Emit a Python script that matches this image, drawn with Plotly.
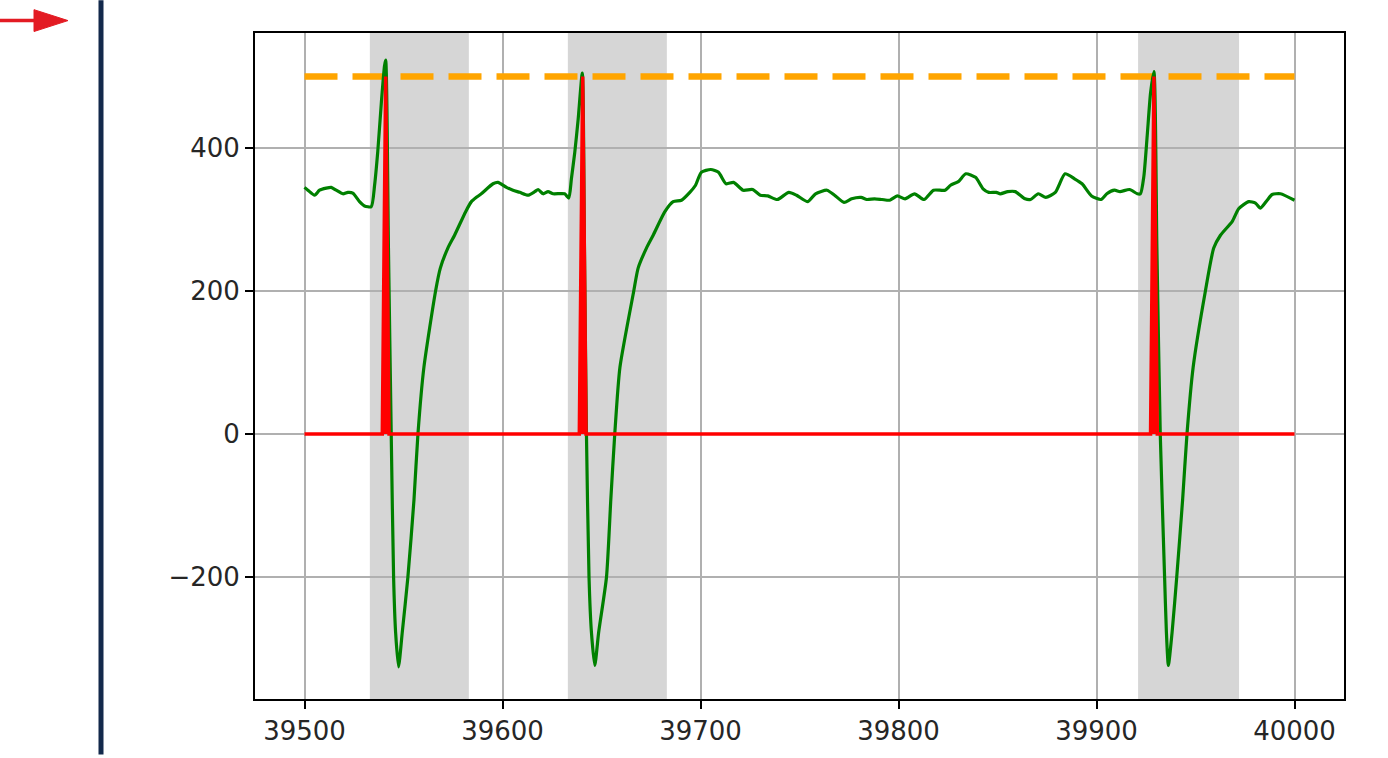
import plotly.graph_objects as go

# ---------------- data ----------------
green_x = [39500, 39501.7, 39505.1, 39507.6, 39511, 39513.5, 39516, 39519.4, 39521.9, 39524.4,
           39527.8, 39530.3, 39533.7, 39535.4, 39537, 39538.8, 39540.4, 39541, 39542.4, 39543.8,
           39545, 39546, 39547.5, 39549.4, 39552.2, 39555.3, 39557.3, 39560.3, 39566.2, 39568.6,
           39572.4, 39575.8, 39581.4, 39584.3, 39586.8, 39589.3, 39595.2, 39597.7, 39602, 39605.3,
           39608.7, 39612.9, 39616.3, 39618, 39620.5, 39623, 39625.6, 39631.4, 39633.5, 39634.8,
           39636.5, 39638.2, 39640.3, 39641.4, 39642.4, 39643.7, 39644.9, 39646.6, 39648.6, 39652.5,
           39654.7, 39656.7, 39659.3, 39666.3, 39668.5, 39672.7, 39676.1, 39682, 39686.2, 39690.4,
           39694.6, 39697.5, 39700.4, 39705.2, 39709.1, 39712.9, 39716.7, 39721.5, 39726.3, 39730.2,
           39734, 39738.8, 39744.6, 39748.5, 39754.2, 39758.1, 39763.9, 39767.7, 39772.5, 39776.3,
           39781.1, 39784, 39787.9, 39791.7, 39795.6, 39799.4, 39803.3, 39808.1, 39812.9, 39817.7,
           39823.5, 39826.3, 39830.2, 39834, 39838.9, 39842.7, 39845.6, 39849.4, 39851.4, 39855.2,
           39859, 39863.9, 39866.7, 39870.6, 39874.4, 39879.2, 39884.1, 39888.9, 39892.7, 39897.5,
           39902.3, 39905.2, 39909.1, 39911.9, 39916.7, 39920.6, 39922.2, 39923.9, 39925.6, 39927.3,
           39929, 39930.5, 39932.2, 39934.4, 39935.3, 39936.3, 39938.2, 39940.5, 39943.5, 39945.7,
           39948.8, 39955, 39959.2, 39962.6, 39968.5, 39971.8, 39976.9, 39980.3, 39982.8, 39986.2,
           39988.7, 39992.9, 40000]
green_y = [345, 341, 334, 341, 344, 345, 341, 336, 338, 337,
           325, 319, 318, 348, 395, 463, 515, 523, 260, 0,
           -201, -277, -326, -277, -201, -92, 0, 93, 200, 232,
           260, 278, 311, 325, 331, 336, 350, 352, 345, 341,
           338, 334, 339, 342, 336, 339, 336, 336, 330, 357,
           394, 440, 505, 260, 0, -201, -277, -324, -277, -201,
           -92, 0, 93, 200, 232, 260, 278, 311, 325, 327,
           338, 348, 366, 370, 366, 350, 352, 341, 342, 334,
           333, 328, 338, 334, 325, 336, 341, 334, 324, 329,
           331, 328, 329, 328, 327, 333, 329, 336, 328, 341,
           341, 348, 353, 364, 359, 343, 338, 338, 336, 339,
           339, 329, 328, 336, 331, 338, 364, 357, 350, 333,
           328, 336, 341, 339, 342, 336, 336, 360, 417, 477,
           507, 260, 0, -201, -277, -324, -277, -201, -92, 0,
           93, 200, 260, 278, 297, 315, 325, 323, 316, 327,
           335, 336, 327]

red_x = [39500, 39539.3, 39541, 39542.7, 39638.8, 39640.5, 39642.2, 39927.3, 39929, 39930.7, 40000]
red_y = [0, 0, 500, 0, 0, 500, 0, 0, 500, 0, 0]

threshold_x = [39500, 40000]
threshold_y = [500, 500]

span_start = [39533, 39633, 39921]
span_end = [39583, 39683, 39972]

x_ticks = [39500, 39600, 39700, 39800, 39900, 40000]
x_ticktext = ["39500", "39600", "39700", "39800", "39900", "40000"]
y_ticks = [-200, 0, 200, 400]
y_ticktext = ["\u2212200", "0", "200", "400"]

# ---------------- figure ----------------
W, H = 1388, 758
L, R, T, B = 255, 44, 33, 54
PW, PH = W - L - R, H - T - B


def px(xpix):
    return (xpix - L) / PW


def py(ypix):
    return (H - B - ypix) / PH


fig = go.Figure()

fig.add_trace(go.Scatter(x=threshold_x, y=threshold_y, mode="lines",
                         line=dict(color="#ffa500", width=6.5, dash="33px,15px"),
                         hoverinfo="skip", showlegend=False))
fig.add_trace(go.Scatter(x=green_x, y=green_y, mode="lines",
                         line=dict(color="#008000", width=3.2, shape="spline", smoothing=0.6),
                         hoverinfo="skip", showlegend=False))
fig.add_trace(go.Scatter(x=red_x, y=red_y, mode="lines",
                         line=dict(color="#ff0000", width=3.5),
                         fill="tozeroy", fillcolor="#ff0000",
                         hoverinfo="skip", showlegend=False))

shapes = []
for s, e in zip(span_start, span_end):
    shapes.append(dict(type="rect", xref="x", yref="paper", x0=s, x1=e, y0=0, y1=1,
                       fillcolor="#d6d6d6", line=dict(width=0), layer="below"))

# page decorations: navy vertical bar and red arrow
shapes.append(dict(type="line", xref="paper", yref="paper",
                   x0=px(101), x1=px(101), y0=py(760), y1=py(0),
                   line=dict(color="#13294b", width=5)))
shapes.append(dict(type="line", xref="paper", yref="paper",
                   x0=px(0), x1=px(38), y0=py(20.5), y1=py(20.5),
                   line=dict(color="#e31b23", width=3.5)))
shapes.append(dict(type="path", xref="paper", yref="paper",
                   path=f"M {px(34)},{py(9.5)} L {px(68)},{py(20.5)} L {px(34)},{py(31.5)} Z",
                   fillcolor="#e31b23", line=dict(color="#e31b23", width=1)))

axis_common = dict(showline=True, mirror=True, linecolor="black", linewidth=1.8,
                   showgrid=True, gridcolor="#b0b0b0", gridwidth=1.6, zeroline=False,
                   ticks="outside", ticklen=8, tickwidth=1.8, tickcolor="black",
                   tickfont=dict(family="DejaVu Sans", size=26, color="#262626"))

fig.update_layout(
    width=W, height=H,
    margin=dict(l=L, r=R, t=T, b=B, pad=0),
    paper_bgcolor="white", plot_bgcolor="white",
    showlegend=False,
    shapes=shapes,
    xaxis=dict(range=[39475, 40025], tickmode="array", tickvals=x_ticks, ticktext=x_ticktext,
               **axis_common),
    yaxis=dict(range=[-371, 561], tickmode="array", tickvals=y_ticks, ticktext=y_ticktext,
               **axis_common),
)

fig.write_html("out.html", config={"displayModeBar": False},
               post_script="document.documentElement.style.margin='0';document.body.style.margin='0';"
                           "document.documentElement.style.overflow='hidden';document.body.style.overflow='hidden';")
